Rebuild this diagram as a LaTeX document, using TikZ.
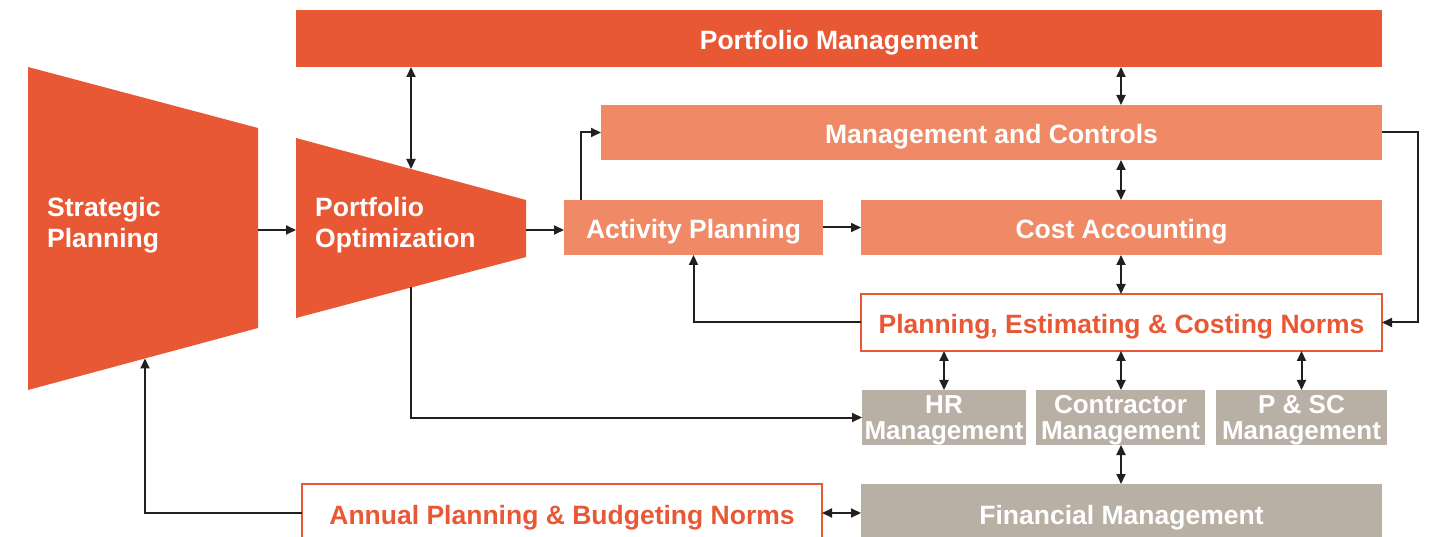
\documentclass[tikz,border=0pt]{standalone}
\usepackage{fontspec}
\setmainfont{Liberation Sans}
\usetikzlibrary{arrows.meta}
\definecolor{deeporange}{HTML}{E95835}
\definecolor{softorange}{HTML}{EF8966}
\definecolor{stone}{HTML}{B8B0A5}
\definecolor{ink}{HTML}{231F20}

\begin{document}
\begin{tikzpicture}[x=1pt,y=-1pt,
  labelfont/.style={font=\fontsize{26.5}{31}\selectfont\bfseries},
  box/.style={labelfont, inner sep=0pt, outer sep=0pt, anchor=north west,
              text height=23pt, text depth=0pt},
  solidbox/.style={box, fill=#1, text=white},
  normbox/.style={box, fill=white, draw=deeporange, line width=2.5pt, text=deeporange},
  greybox/.style={inner sep=0pt, outer sep=0pt, anchor=north west, fill=stone},
  greytext/.style={font=\fontsize{26}{26}\selectfont\bfseries, text=white,
              align=center, inner sep=0pt, yshift=-3pt},
  tip/.style={Triangle[length=10pt,width=9pt]},
  flow/.style={draw=ink, line width=2pt, -{Triangle[length=10pt,width=9pt]}},
  twoway/.style={draw=ink, line width=2pt,
              {Triangle[length=10pt,width=9pt]}-{Triangle[length=10pt,width=9pt]}},
  shapetext/.style={labelfont, text=white, inner sep=0pt, anchor=base west}
]
\useasboundingbox (0,0) rectangle (1433,537);

% funnel shapes
\fill[deeporange] (28,67) -- (258,128) -- (258,328) -- (28,390) -- cycle;
\fill[deeporange] (296,138) -- (526,200) -- (526,257) -- (296,318) -- cycle;
\node[shapetext] (sp1) at (47,217) {Strategic};
\node[shapetext] (sp2) at (47,248) {Planning};
\node[shapetext] (po1) at (315,217) {Portfolio};
\node[shapetext] (po2) at (315,248) {Optimization};

\coordinate (spE) at (258,230);
\coordinate (spBot) at (145,358.5);
\coordinate (poW) at (296,230);
\coordinate (poE) at (526,230);
\coordinate (poTop) at (411,169);
\coordinate (poBot) at (411,287);
\coordinate (col) at (1121,0);

% boxes
\node[solidbox=deeporange, minimum width=1086pt, minimum height=57pt] (pm) at (296,10) {Portfolio Management};
\node[solidbox=softorange, minimum width=781pt, minimum height=55pt] (mc) at (601,105) {Management and Controls};
\node[solidbox=softorange, minimum width=259pt, minimum height=55pt] (ap) at (564,200) {Activity Planning};
\node[solidbox=softorange, minimum width=521pt, minimum height=55pt] (ca) at (861,200) {Cost Accounting};
\node[normbox, minimum width=521pt, minimum height=57pt] (pecn) at (861,294) {Planning, Estimating \& Costing Norms};
\node[greybox, minimum width=164pt, minimum height=55pt,
      label={[greytext]center:{HR\\Management}}] (hr) at (862,390) {};
\node[greybox, minimum width=169pt, minimum height=55pt,
      label={[greytext]center:{Contractor\\Management}}] (cm) at (1036,390) {};
\node[greybox, minimum width=171pt, minimum height=55pt,
      label={[greytext]center:{P \& SC\\Management}}] (psc) at (1216,390) {};
\node[solidbox=stone, minimum width=521pt, minimum height=58pt] (fm) at (861,484) {Financial Management};
\node[normbox, minimum width=520pt, minimum height=58pt] (apb) at (302,484) {Annual Planning \& Budgeting Norms};

% connectors
\draw[flow] (spE) -- (poW);
\draw[flow] (poE) -- (poE -| ap.west);
\draw[twoway] (poTop |- pm.south) -- (poTop);
\draw[flow] ([xshift=17pt]ap.north west) |- (mc.west);
\draw[flow] (ap.east) -- (ca.west);
\draw[twoway] (pm.south -| col) -- (mc.north -| col);
\draw[twoway] (mc.south -| col) -- (ca.north -| col);
\draw[twoway] (ca.south -| col) -- (pecn.north -| col);
\draw[flow] (mc.east) -- ++(36,0) |- (pecn.east);
\draw[flow] (pecn.west) -| (ap.south);
\draw[twoway] (hr.north |- pecn.south) -- (hr.north);
\draw[twoway] (pecn.south -| col) -- (cm.north -| col);
\draw[twoway] (psc.north |- pecn.south) -- (psc.north);
\draw[twoway] (cm.south -| col) -- (fm.north -| col);
\draw[flow] (poBot) |- (hr.west);
\draw[twoway] (apb.east) -- (fm.west |- apb.east);
\draw[flow] (apb.west) -| (spBot);
\end{tikzpicture}
\end{document}
